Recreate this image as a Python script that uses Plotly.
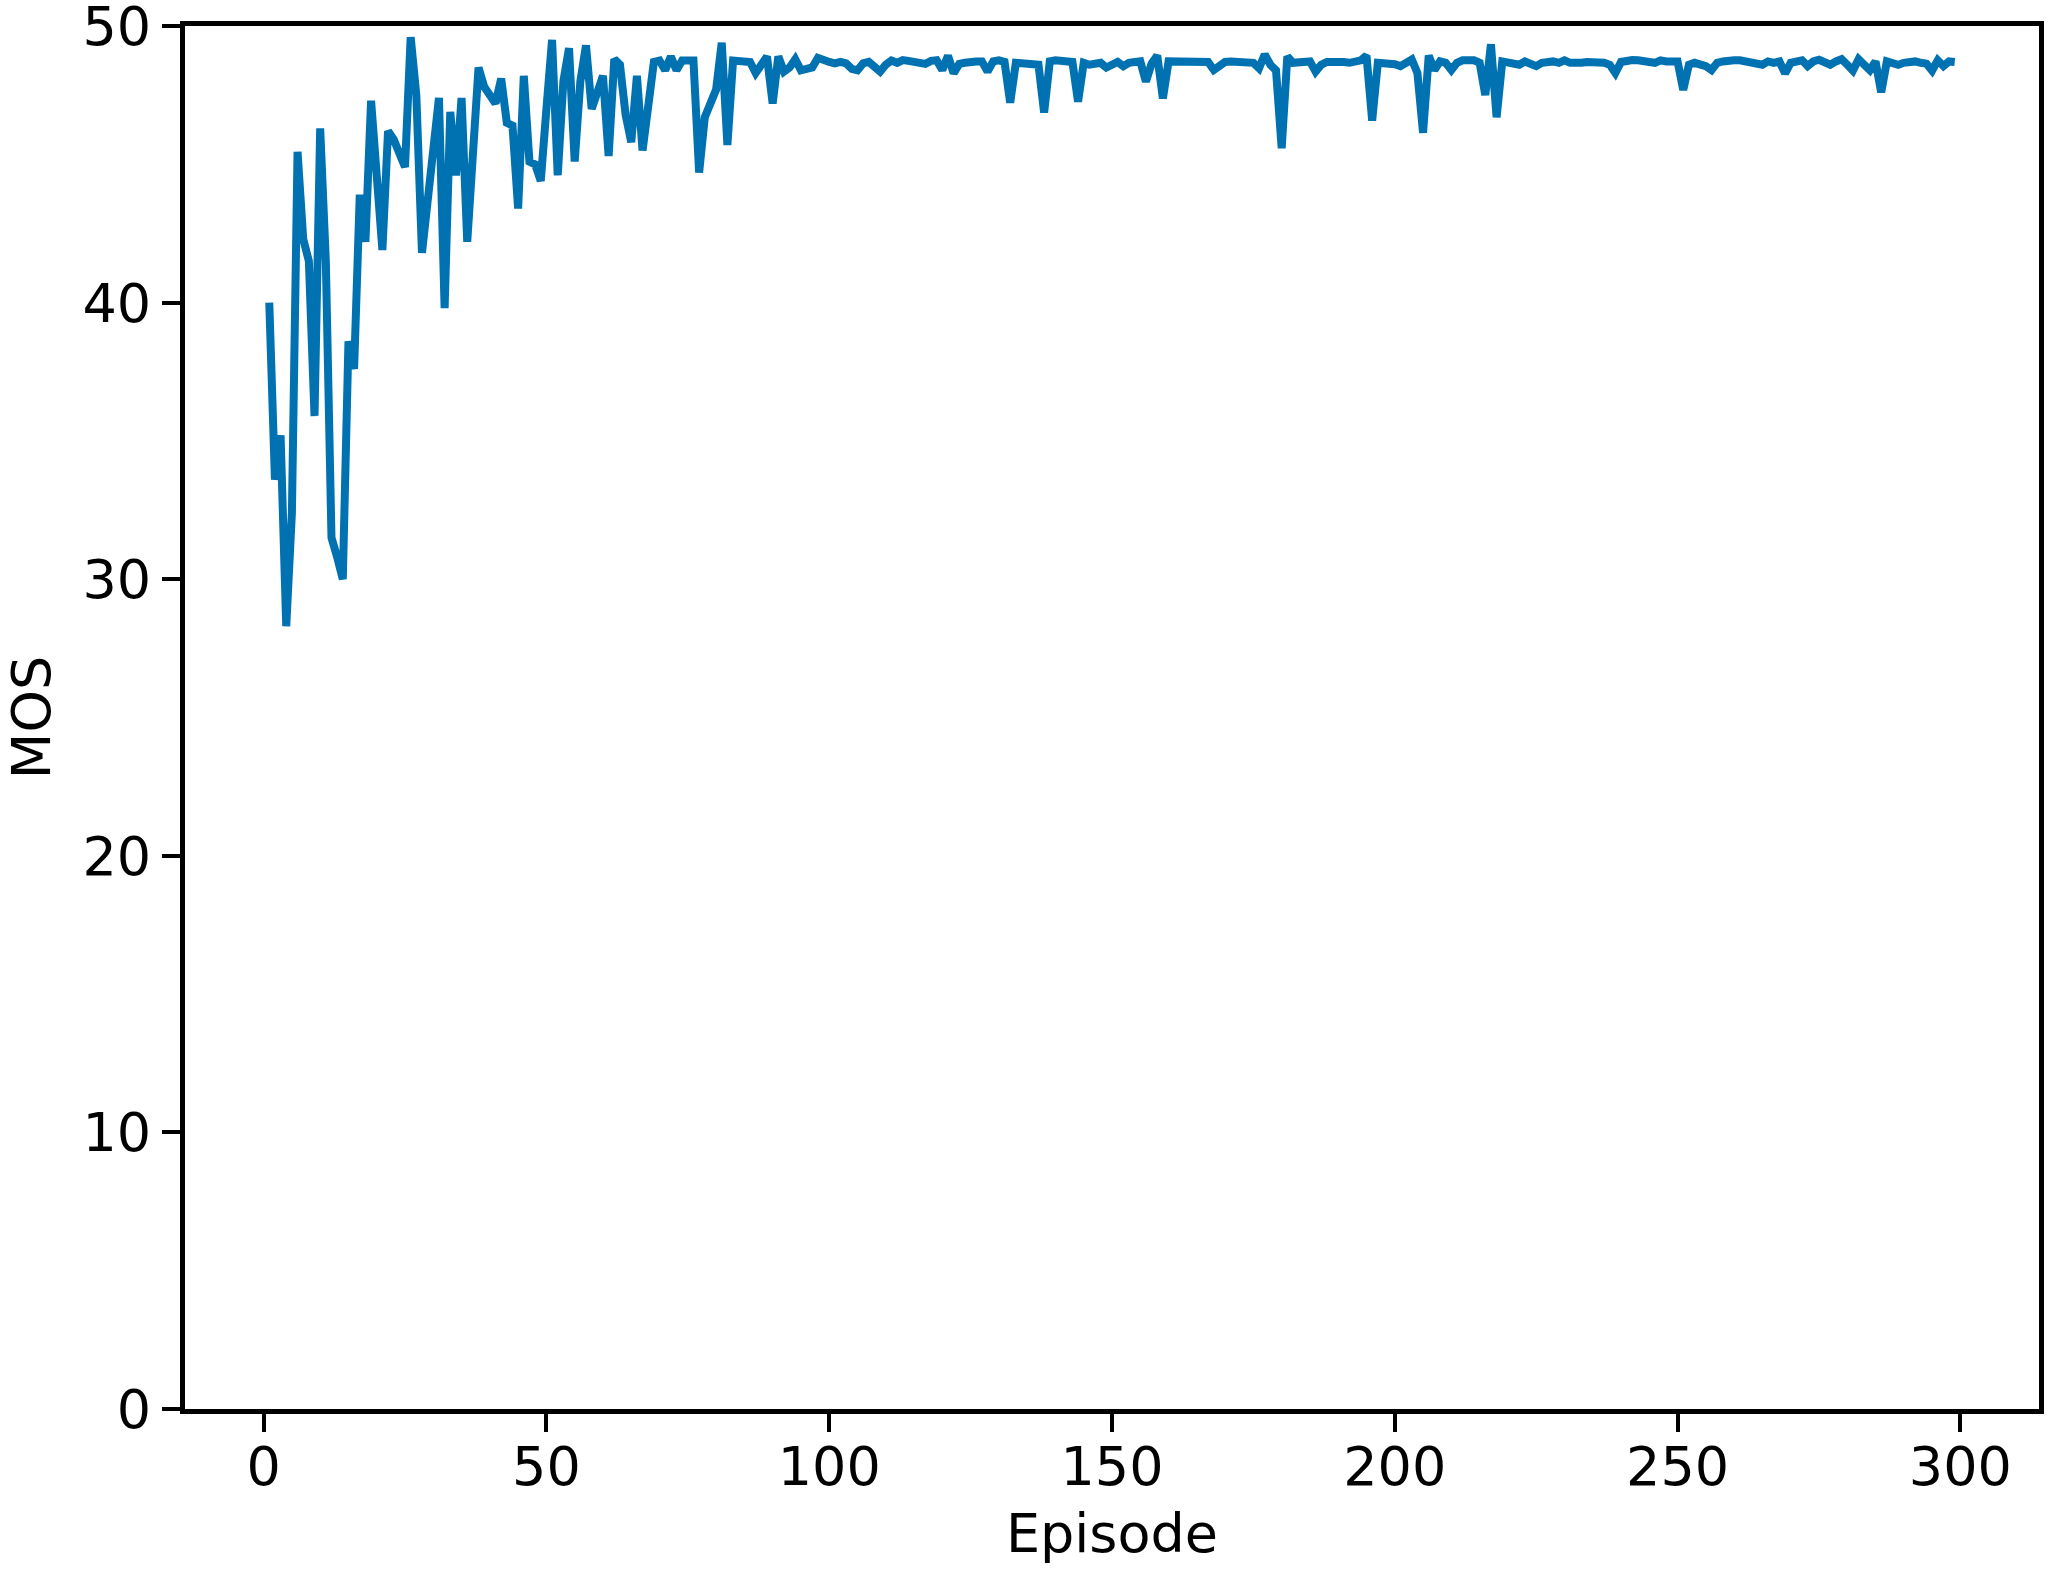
import plotly.graph_objects as go

# Episode index (x axis)
episodes = list(range(1, 300))

# MOS values, in blocks of 50 episodes
mos_001_050 = [
    40.0, 33.6, 35.2, 28.3, 32.4, 45.45, 42.3, 41.5, 35.9, 46.3,
    41.5, 31.5, 30.8, 30.0, 38.6, 37.6, 43.9, 42.2, 47.3, 44.5,
    41.9, 46.2, 45.9, 45.4, 44.9, 49.6, 47.5, 41.8, 43.5, 45.5,
    47.4, 39.8, 46.9, 44.6, 47.4, 42.2, 45.4, 48.5, 47.8, 47.5,
    47.2, 48.1, 46.5, 46.4, 43.4, 48.2, 45.1, 45.0, 44.4, 47.0,
]
mos_051_100 = [
    49.5, 44.6, 48.0, 49.2, 45.1, 48.0, 49.3, 47.0, 47.6, 48.2,
    45.3, 48.8, 48.6, 46.8, 45.8, 48.2, 45.5, 47.3, 48.7, 48.75,
    48.4, 48.9, 48.4, 48.75, 48.75, 48.75, 44.7, 46.7, 47.2, 47.7,
    49.4, 45.7, 48.75, 48.75, 48.75, 48.7, 48.3, 48.6, 48.9, 47.2,
    48.9, 48.35, 48.5, 48.8, 48.4, 48.45, 48.5, 48.85, 48.75, 48.7,
]
mos_101_150 = [
    48.65, 48.7, 48.65, 48.45, 48.4, 48.65, 48.7, 48.55, 48.35, 48.6,
    48.75, 48.67, 48.77, 48.74, 48.72, 48.7, 48.63, 48.74, 48.76, 48.41,
    48.93, 48.29, 48.63, 48.67, 48.72, 48.72, 48.72, 48.35, 48.72, 48.76,
    48.7, 47.23, 48.67, 48.67, 48.67, 48.64, 48.6, 46.87, 48.72, 48.76,
    48.76, 48.76, 48.7, 47.26, 48.67, 48.6, 48.6, 48.67, 48.5, 48.6,
]
mos_151_200 = [
    48.7, 48.55, 48.67, 48.7, 48.72, 47.99, 48.64, 48.93, 47.38, 48.72,
    48.72, 48.67, 48.72, 48.72, 48.72, 48.72, 48.7, 48.41, 48.6, 48.7,
    48.72, 48.72, 48.72, 48.7, 48.67, 48.47, 48.97, 48.6, 48.4, 45.58,
    48.9, 48.67, 48.67, 48.67, 48.72, 48.35, 48.6, 48.7, 48.72, 48.7,
    48.7, 48.67, 48.72, 48.76, 48.93, 46.58, 48.67, 48.67, 48.64, 48.62,
]
mos_201_250 = [
    48.55, 48.67, 48.79, 48.3, 46.14, 48.93, 48.41, 48.72, 48.67, 48.41,
    48.67, 48.76, 48.76, 48.76, 48.67, 47.5, 49.34, 46.7, 48.72, 48.67,
    48.64, 48.6, 48.72, 48.67, 48.55, 48.67, 48.72, 48.72, 48.67, 48.76,
    48.67, 48.64, 48.67, 48.7, 48.7, 48.7, 48.67, 48.6, 48.3, 48.7,
    48.77, 48.77, 48.76, 48.76, 48.7, 48.67, 48.76, 48.72, 48.72, 48.72,
]
mos_251_299 = [
    47.69, 48.6, 48.67, 48.64, 48.55, 48.41, 48.67, 48.72, 48.76, 48.76,
    48.76, 48.72, 48.72, 48.7, 48.6, 48.72, 48.67, 48.72, 48.29, 48.67,
    48.7, 48.76, 48.55, 48.72, 48.78, 48.7, 48.6, 48.72, 48.8, 48.6,
    48.39, 48.8, 48.55, 48.4, 48.72, 47.6, 48.72, 48.67, 48.6, 48.67,
    48.7, 48.72, 48.67, 48.64, 48.39, 48.76, 48.55, 48.72, 48.7,
]

mos = mos_001_050 + mos_051_100 + mos_101_150 + mos_151_200 + mos_201_250 + mos_251_299

x_ticks = [0, 50, 100, 150, 200, 250, 300]
y_ticks = [0, 10, 20, 30, 40, 50]

FONT = "DejaVu Sans"
FSIZE = 54

fig = go.Figure(
    go.Scatter(
        x=episodes,
        y=mos,
        mode="lines",
        line=dict(color="#0072B2", width=8),
        showlegend=False,
        cliponaxis=False,
    )
)

axis_common = dict(
    showgrid=False,
    zeroline=False,
    showline=True,
    linecolor="black",
    linewidth=5,
    mirror=True,
    ticks="outside",
    ticklen=18,
    tickwidth=4,
    tickcolor="black",
    tickfont=dict(family=FONT, size=FSIZE, color="black"),
    ticklabeloverflow="allow",
    automargin=False,
)

fig.update_layout(
    width=2056,
    height=1580,
    margin=dict(l=185, r=17, t=26, b=171, pad=0),
    plot_bgcolor="white",
    paper_bgcolor="white",
    font=dict(family=FONT, color="black"),
    xaxis=dict(
        range=[-13.9, 313.9],
        tickvals=x_ticks,
        ticklabelstandoff=-12,
        title=dict(text="Episode", font=dict(family=FONT, size=FSIZE, color="black"), standoff=19),
        **axis_common,
    ),
    yaxis=dict(
        range=[0, 50.0005],
        tickvals=y_ticks,
        title=dict(text="MOS", font=dict(family=FONT, size=FSIZE, color="black"), standoff=26),
        **axis_common,
    ),
)

fig.write_html(
    "out.html",
    config={"displayModeBar": False},
    post_script="document.body.style.margin='0';document.body.style.padding='0';",
)
